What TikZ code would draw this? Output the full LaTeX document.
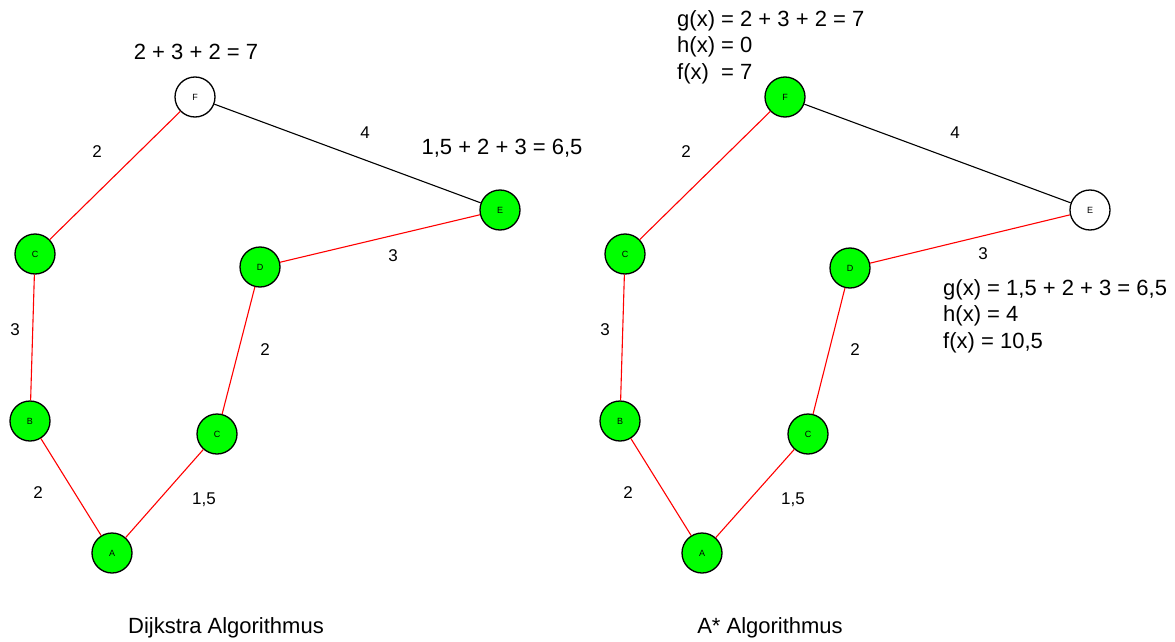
\documentclass[tikz,border=0pt]{standalone}
\usepackage{fontspec}
\setmainfont{Liberation Sans}
\usetikzlibrary{positioning}

\tikzset{
  vertex/.style={circle, draw=black, line width=1.3pt, minimum size=40pt, inner sep=0pt, font=\fontsize{9}{9}\selectfont},
  done/.style={vertex, fill=green},
  open/.style={vertex, fill=white},
  path/.style={red, line width=1.1pt},
  rest/.style={black, line width=1.1pt},
  weight/.style={font=\fontsize{17}{17}\selectfont},
  cost/.style={font=\fontsize{22}{26.5}\selectfont, align=left, inner sep=0pt}
}

\begin{document}
\begin{tikzpicture}[x=1pt, y=-1pt]
  \useasboundingbox (0,0) rectangle (1175,642);

  % Dijkstra
  \node[open] (dF) at (195,97) {F};
  \node[done] (dC1) at (35,254) {C};
  \node[done] (dD) at (260,267) {D};
  \node[done] (dE) at (500,210) {E};
  \node[done] (dB) at (30,421) {B};
  \node[done] (dC2) at (217,434) {C};
  \node[done] (dA) at (112,553) {A};

  \draw[path] (dF) -- (dC1);
  \draw[rest] (dF) -- (dE);
  \draw[path] (dE) -- (dD);
  \draw[path] (dC1) -- (dB);
  \draw[path] (dD) -- (dC2);
  \draw[path] (dB) -- (dA);
  \draw[path] (dC2) -- (dA);

  \node[weight] (dw1) at (97,152) {2};
  \node[weight] (dw2) at (365,133) {4};
  \node[weight] (dw3) at (393,256) {3};
  \node[weight] (dw4) at (15,330) {3};
  \node[weight] (dw5) at (265,350) {2};
  \node[weight] (dw6) at (38,493) {2};
  \node[weight] (dw7) at (204,500) {1,5};

  \node[cost] (dsumF) at (196,52) {2 + 3 + 2 = 7};
  \node[cost] (dsumE) at (502,148) {1,5 + 2 + 3 = 6,5};
  \node[cost] (dtitle) at (226,628) {Dijkstra Algorithmus};

  % A*
  \node[done] (aF) at (785,97) {F};
  \node[done] (aC1) at (625,254) {C};
  \node[done] (aD) at (850,268) {D};
  \node[open] (aE) at (1090,210) {E};
  \node[done] (aB) at (620,421) {B};
  \node[done] (aC2) at (808,434) {C};
  \node[done] (aA) at (702,553) {A};

  \draw[path] (aF) -- (aC1);
  \draw[rest] (aF) -- (aE);
  \draw[path] (aE) -- (aD);
  \draw[path] (aC1) -- (aB);
  \draw[path] (aD) -- (aC2);
  \draw[path] (aB) -- (aA);
  \draw[path] (aC2) -- (aA);

  \node[weight] (aw1) at (686,152) {2};
  \node[weight] (aw2) at (955,133) {4};
  \node[weight] (aw3) at (983,254) {3};
  \node[weight] (aw4) at (605,330) {3};
  \node[weight] (aw5) at (855,350) {2};
  \node[weight] (aw6) at (628,493) {2};
  \node[weight] (aw7) at (793,500) {1,5};

  \node[cost, anchor=west] (asumF) at (677,47) {g(x) = 2 + 3 + 2 = 7\\h(x) = 0\\f(x)\ \ = 7};
  \node[cost, anchor=west] (asumE) at (943,316) {g(x) = 1,5 + 2 + 3 = 6,5\\h(x) = 4\\f(x) = 10,5};
  \node[cost] (atitle) at (770,628) {A* Algorithmus};
\end{tikzpicture}
\end{document}
